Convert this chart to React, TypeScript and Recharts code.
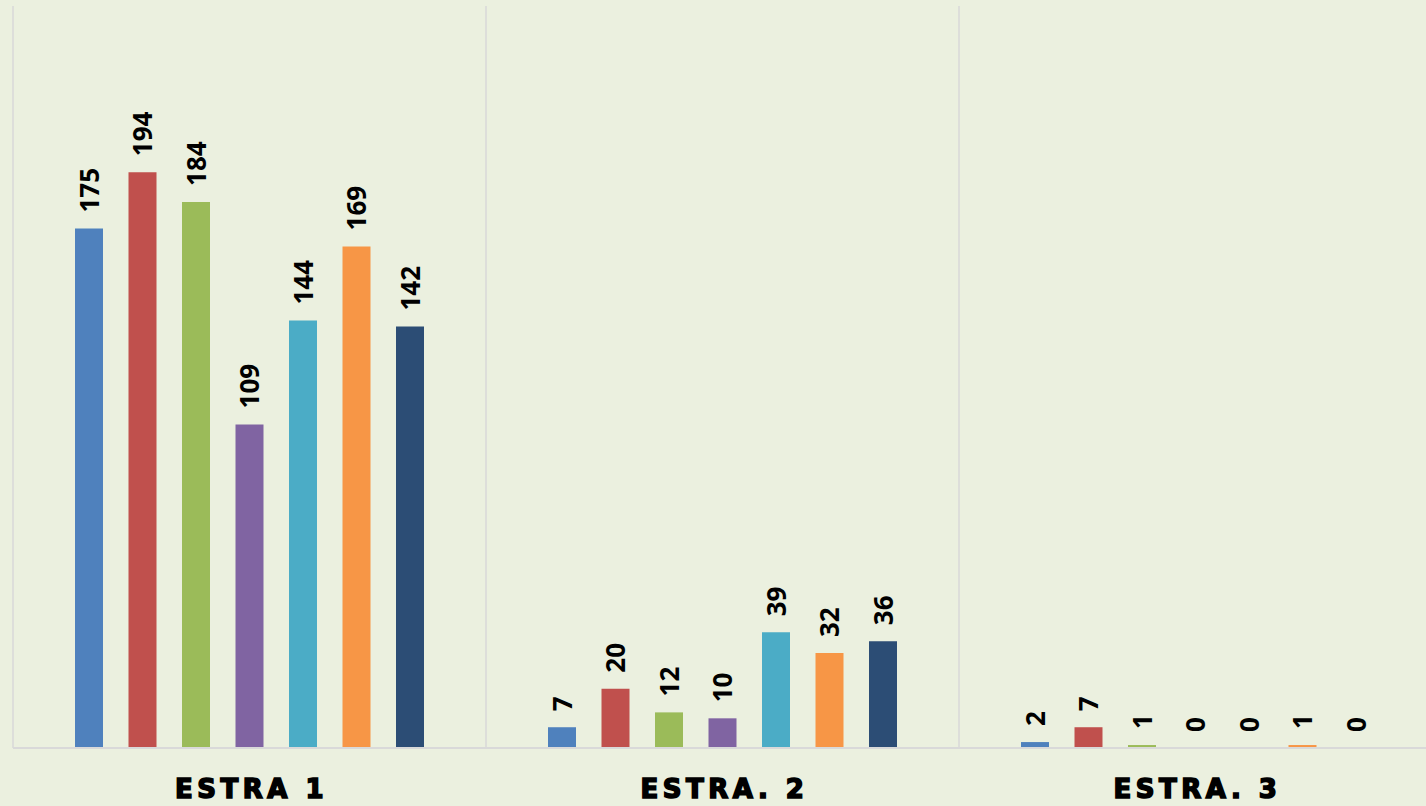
import { BarChart, Bar, XAxis, YAxis, CartesianGrid, LabelList } from 'recharts';

const categories = ['ESTRA 1', 'ESTRA. 2', 'ESTRA. 3'];

const serie1 = [175, 7, 2];
const serie2 = [194, 20, 7];
const serie3 = [184, 12, 1];
const serie4 = [109, 10, 0];
const serie5 = [144, 39, 0];
const serie6 = [169, 32, 1];
const serie7 = [142, 36, 0];

const seriesValues = [serie1, serie2, serie3, serie4, serie5, serie6, serie7];
const COLORS = ['#4F81BD', '#C0504D', '#9BBB59', '#8064A2', '#4BACC6', '#F79646', '#2C4D75'];

const data = categories.map((name, i) => {
  const row: Record<string, string | number> = { name };
  seriesValues.forEach((vals, s) => {
    row[`s${s + 1}`] = vals[i];
  });
  return row;
});

const BG = '#EBF0DF';
const GRID = '#D9D9D9';

function ValueLabel(props: any) {
  const { x, y, width, value } = props;
  const cx = Number(x) + Number(width) / 2;
  const ty = Number(y) - 16;
  return (
    <text
      x={cx}
      y={ty}
      transform={`rotate(-90, ${cx}, ${ty})`}
      textAnchor="start"
      dominantBaseline="central"
      fontFamily="'Open Sans', sans-serif"
      fontWeight={700}
      fontSize={26}
      fill="#000"
    >
      {value}
    </text>
  );
}

function CategoryTick(props: any) {
  const { x, y, payload } = props;
  return (
    <text
      x={Number(x) + 2}
      y={Number(y) + 44}
      textAnchor="middle"
      fontFamily="'DejaVu Sans', sans-serif"
      fontWeight={700}
      fontSize={26}
      letterSpacing={4.5}
      fill="#000"
      stroke="#000"
      strokeWidth={1.6}
    >
      {payload.value}
    </text>
  );
}

export default function App() {
  return (
    <div style={{ width: 1426, height: 806, overflow: 'hidden', background: BG }}>
      <style>{`body{margin:0;background:${BG};}`}</style>
      <BarChart
        width={1432}
        height={806}
        data={data}
        margin={{ top: 6, right: 0, left: 13, bottom: 0 }}
        barSize={28}
        barGap={25.5}
      >
        <CartesianGrid
          horizontal={false}
          stroke={GRID}
          strokeWidth={1.5}
          verticalCoordinatesGenerator={({ offset }: any) => [
            offset.left,
            offset.left + offset.width / 3,
            offset.left + (offset.width * 2) / 3,
            offset.left + offset.width,
          ]}
        />
        <XAxis
          dataKey="name"
          height={58}
          tickLine={false}
          tickMargin={0}
          axisLine={{ stroke: GRID, strokeWidth: 2 }}
          tick={<CategoryTick />}
          interval={0}
        />
        <YAxis hide domain={[0, 250]} />
        {COLORS.map((c, i) => (
          <Bar
            key={i}
            dataKey={`s${i + 1}`}
            name={`Serie ${i + 1}`}
            fill={c}
            minPointSize={0.1}
            isAnimationActive={false}
          >
            <LabelList dataKey={`s${i + 1}`} content={<ValueLabel />} />
          </Bar>
        ))}
      </BarChart>
    </div>
  );
}
